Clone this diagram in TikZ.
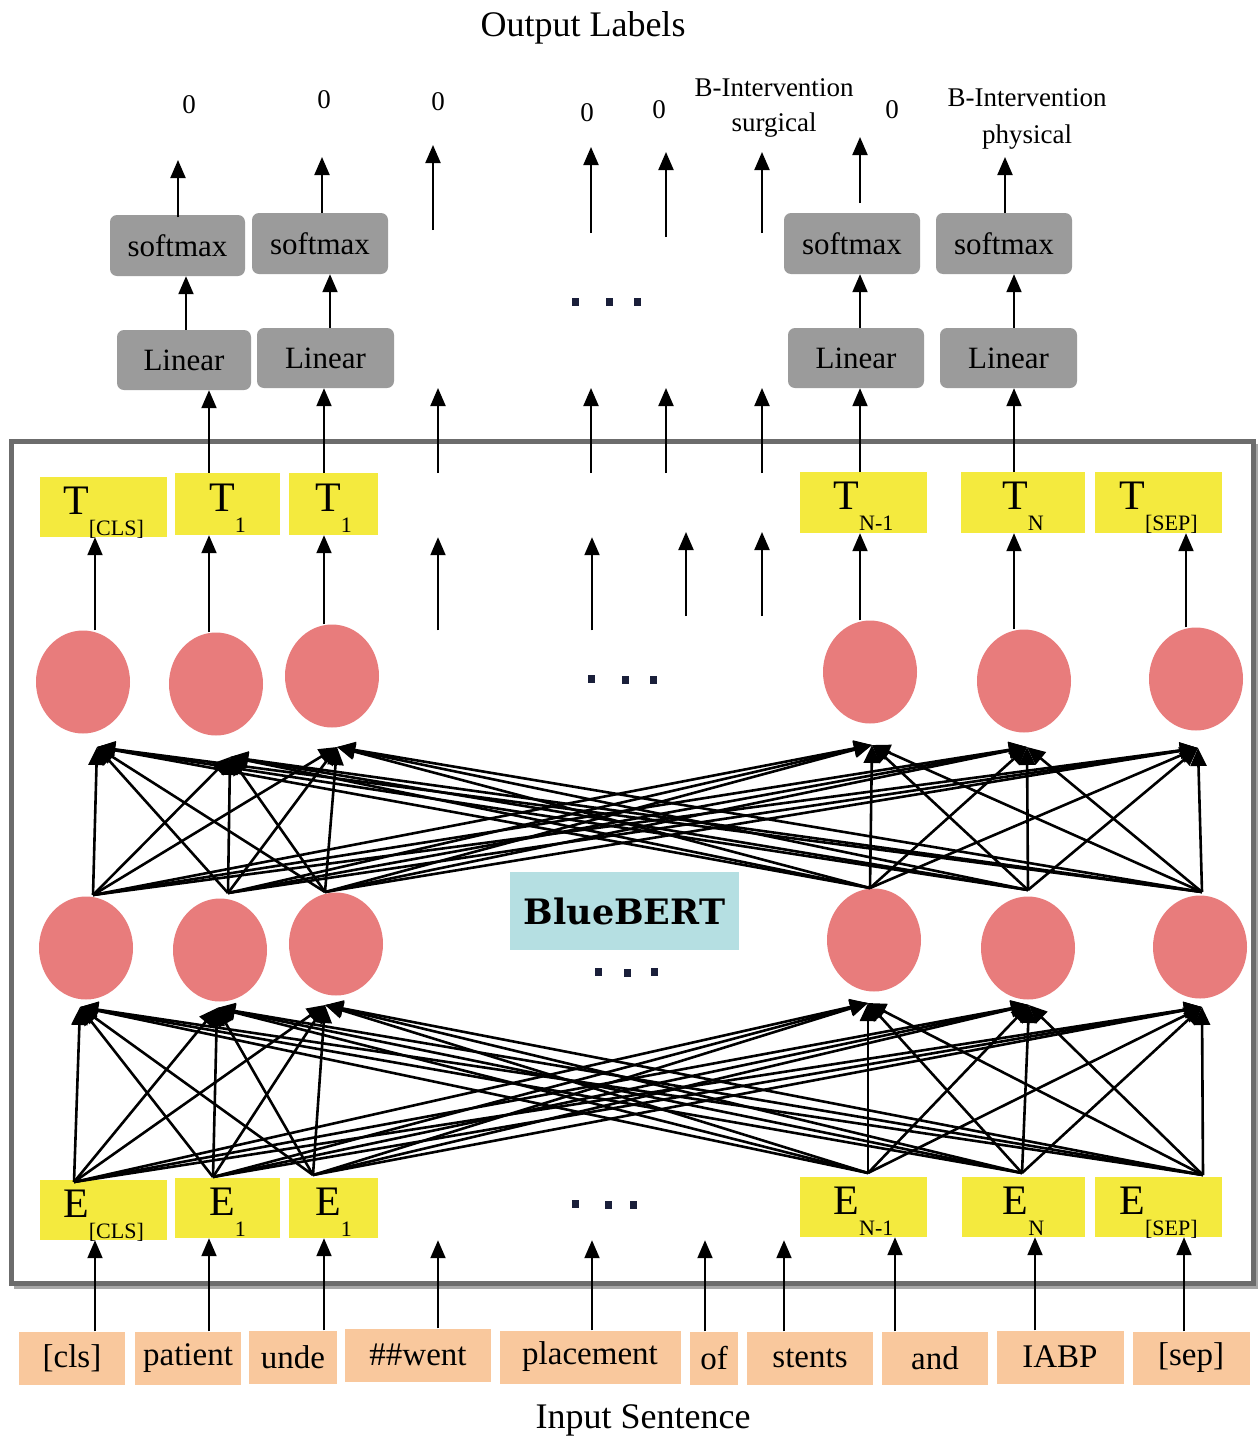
\documentclass[tikz,border=0pt]{standalone}
\usepackage{fontspec}
\setmainfont{Liberation Serif}
\newfontfamily\bertfont{DejaVu Serif}
\usetikzlibrary{arrows.meta,shapes.geometric}

\definecolor{tokfill}{HTML}{F9C89D}
\definecolor{embfill}{HTML}{F4EA3E}
\definecolor{unitfill}{HTML}{E87C7C}
\definecolor{headfill}{HTML}{9B9B9B}
\definecolor{bertfill}{HTML}{B5DFE2}
\definecolor{framecol}{HTML}{6C6C6C}
\definecolor{dotcol}{HTML}{1A1F3A}

\newcommand\embtext[2]{{\fontsize{42}{42}\selectfont #1}\raisebox{-21pt}{\fontsize{22}{22}\selectfont #2}}

\tikzset{
  fsz/.style={font=\fontsize{#1}{#1}\selectfont},
  arr/.style={line width=2pt,-{Triangle[length=18pt,width=15pt]}},
  link/.style={line width=2.6pt,-{Triangle[length=18pt,width=16pt]}},
  tok/.style={fill=tokfill,inner sep=0pt,minimum height=53pt,fsz=33},
  emb/.style={fill=embfill,inner sep=0pt,minimum height=60pt,text height=37pt,text depth=23pt},
  unit/.style={ellipse,fill=unitfill,inner sep=0pt,minimum width=94pt,minimum height=103pt},
  headbox/.style={fill=headfill,rounded corners=7pt,inner sep=0pt,minimum width=136pt,minimum height=60pt,fsz=31},
  lab/.style={fsz=27,inner sep=0pt,align=center},
  title/.style={fsz=36,inner sep=0pt},
  dotm/.style={fill=dotcol,inner sep=0pt,minimum width=7pt,minimum height=8pt},
}

\begin{document}
\begin{tikzpicture}[x=1pt,y=-1pt]
\useasboundingbox (0,0) rectangle (1260,1440);
\fill[white] (0,0) rectangle (1260,1440);

% encoder frame with a soft shadow on its lower edge
\draw[framecol!60,line width=4pt] (14,1287) -- (1256,1287) -- (1256,444);
\draw[framecol,line width=5pt] (11,441) rectangle (1253,1283);

% titles
\node[title] (outtitle) at (583,28) {Output Labels};
\node[title] (intitle) at (643,1420) {Input Sentence};

% input tokens
\node[tok,minimum width=106pt] (w1) at (72,1358) {[cls]};
\node[tok,minimum width=106pt] (w2) at (188,1358) {patient};
\node[tok,minimum width=88pt]  (w3) at (293,1357) {unde};
\node[tok,minimum width=146pt] (w4) at (418,1355) {\#\#went};
\node[tok,minimum width=181pt] (w5) at (590,1357) {placement};
\node[tok,minimum width=48pt]  (w6) at (714,1358) {of};
\node[tok,minimum width=126pt] (w7) at (810,1358) {stents};
\node[tok,minimum width=106pt] (w8) at (935,1358) {and};
\node[tok,minimum width=127pt] (w9) at (1060,1357) {IABP};
\node[tok,minimum width=117pt] (w10) at (1191,1358) {[sep]};

% embeddings
\node[emb,minimum width=127pt] (ecls) at (103.5,1210) {\embtext{E}{[CLS]}};
\node[emb,minimum width=105pt] (e1)   at (227.5,1208) {\embtext{E}{1}};
\node[emb,minimum width=89pt]  (e1b)  at (333.5,1208) {\embtext{E}{1}};
\node[emb,minimum width=127pt] (eN1)  at (863.5,1207) {\embtext{E}{N-1}};
\node[emb,minimum width=123pt] (eN)   at (1023.5,1207) {\embtext{E}{N}};
\node[emb,minimum width=127pt] (eSEP) at (1158.5,1207) {\embtext{E}{[SEP]}};

% contextual outputs
\node[emb,minimum width=127pt] (tcls) at (103.5,507) {\embtext{T}{[CLS]}};
\node[emb,minimum width=105pt,minimum height=62pt] (t1) at (227.5,504) {\embtext{T}{1}};
\node[emb,minimum width=89pt,minimum height=62pt]  (t1b) at (333.5,504) {\embtext{T}{1}};
\node[emb,minimum width=127pt,minimum height=61pt] (tN1) at (863.5,502.5) {\embtext{T}{N-1}};
\node[emb,minimum width=124pt,minimum height=61pt] (tN) at (1023,502.5) {\embtext{T}{N}};
\node[emb,minimum width=127pt,minimum height=61pt] (tSEP) at (1158.5,502.5) {\embtext{T}{[SEP]}};

% hidden units
\node[unit] (la) at (86,948) {};
\node[unit] (lb) at (220,950) {};
\node[unit] (lc) at (336,944) {};
\node[unit] (ld) at (874,940) {};
\node[unit] (le) at (1028,948) {};
\node[unit] (lf) at (1200,947) {};
\node[unit] (ua) at (83,682) {};
\node[unit] (ub) at (216,684) {};
\node[unit] (uc) at (332,676) {};
\node[unit] (ud) at (870,672) {};
\node[unit] (ue) at (1024,681) {};
\node[unit] (uf) at (1196,679) {};

% model name
\node[fill=bertfill,inner sep=0pt,minimum width=229pt,minimum height=78pt,
      font=\bertfont\bfseries\fontsize{35}{35}\selectfont] (bert) at (624.5,911) {BlueBERT};

% classification heads
\node[headbox,minimum width=134pt] (lin1) at (184,360) {Linear};
\node[headbox,minimum width=137pt] (lin2) at (325.5,358) {Linear};
\node[headbox] (lin3) at (856,358) {Linear};
\node[headbox,minimum width=137pt] (lin4) at (1008.5,358) {Linear};
\node[headbox,minimum width=135pt,minimum height=61pt] (sm1) at (177.5,245.5) {softmax};
\node[headbox,minimum height=61pt] (sm2) at (320,243.5) {softmax};
\node[headbox,minimum height=61pt] (sm3) at (852,243.5) {softmax};
\node[headbox,minimum height=61pt] (sm4) at (1004,243.5) {softmax};

% output labels
\node[lab] (o1) at (189,105) {0};
\node[lab] (o2) at (324,100) {0};
\node[lab] (o3) at (438,102) {0};
\node[lab] (o4) at (587,113) {0};
\node[lab] (o5) at (659,110) {0};
\node[lab] (o6) at (774,108) {B-Intervention\\[8pt]surgical};
\node[lab] (o7) at (892,110) {0};
\node[lab] (o8) at (1027,119) {B-Intervention\\[10pt]physical};

% ellipsis marks
\foreach \n/\x/\y in {a1/575/302,a2/609/302,a3/637/302,
                      b1/591/679,b2/625/680,b3/653/680,
                      c1/598/972,c2/627/973,c3/654/972,
                      d1/575/1204,d2/608/1205,d3/633/1205}
  \node[dotm] (dot\n) at (\x,\y) {};

% column positions of the vertical arrows
\foreach \n/\x in {k1/95,k2/209,k3/324,k4/438,k5/592,k6/705,k7/784,k8/895,k9/1035,k10/1184}
  \coordinate (\n) at (\x,0);

% tokens -> embeddings
\draw[arr] (w1.north -| k1) -- (ecls.south -| k1);
\draw[arr] (w2.north -| k2) -- (e1.south -| k2);
\draw[arr] (w3.north -| k3) -- (e1b.south -| k3);
\draw[arr] (w4.north -| k4) -- (ecls.south -| k4);
\draw[arr] (w5.north -| k5) -- (ecls.south -| k5);
\draw[arr] (w6.north -| k6) -- (ecls.south -| k6);
\draw[arr] (w7.north -| k7) -- (ecls.south -| k7);
\draw[arr] (w8.north -| k8) -- (eN1.south -| k8);
\draw[arr] (w9.north -| k9) -- (eN.south -| k9);
\draw[arr] (w10.north -| k10) -- (eSEP.south -| k10);

% attention layer 1: embeddings -> lower units
\coordinate (es1) at (74,1182);   \coordinate (et1) at (80,1007);
\coordinate (es2) at (213,1177);  \coordinate (et2) at (217,1008);
\coordinate (es3) at (313,1175);  \coordinate (et3) at (325,1005);
\coordinate (es4) at (868,1173);  \coordinate (et4) at (868,1003);
\coordinate (es5) at (1022,1173); \coordinate (et5) at (1029,1005);
\coordinate (es6) at (1203,1175); \coordinate (et6) at (1202,1007);
\foreach \s in {1,...,6}{\foreach \t in {1,...,6}{\draw[link] (es\s) -- (et\t);}}

% attention layer 2: lower units -> upper units
\coordinate (ms1) at (93,895);    \coordinate (mt1) at (97,747);
\coordinate (ms2) at (228,893);   \coordinate (mt2) at (230,757);
\coordinate (ms3) at (325,892);   \coordinate (mt3) at (337,747);
\coordinate (ms4) at (870,888);   \coordinate (mt4) at (872,745);
\coordinate (ms5) at (1028,890);  \coordinate (mt5) at (1027,747);
\coordinate (ms6) at (1202,892);  \coordinate (mt6) at (1198,748);
\foreach \s in {1,...,6}{\foreach \t in {1,...,6}{\draw[link] (ms\s) -- (mt\t);}}

% upper units -> outputs
\draw[arr] (ua.north -| k1) -- (tcls.south -| k1);
\draw[arr] (ub.north -| k2) -- (t1.south -| k2);
\draw[arr] (uc.north -| k3) -- (t1b.south -| k3);
\draw[arr] (ua.north -| k4) -- (tcls.south -| k4);
\draw[arr] (ua.north -| k5) -- (tcls.south -| k5);
\coordinate (fa) at (686,616); \coordinate (fb) at (686,532);
\coordinate (fc) at (762,616); \coordinate (fd) at (762,532);
\draw[arr] (fa) -- (fb);
\draw[arr] (fc) -- (fd);
\coordinate (k8u) at (860,0); \coordinate (k9u) at (1014,0); \coordinate (k10u) at (1186,0);
\draw[arr] (ud.north -| k8u) -- (tN1.south -| k8u);
\draw[arr] (ue.north -| k9u) -- (tN.south -| k9u);
\draw[arr] (uf.north -| k10u) -- (tSEP.south -| k10u);

% outputs -> heads
\draw[arr] (t1.north -| k2) -- (lin1.south -| k2);
\draw[arr] (t1b.north -| k3) -- (lin2.south -| k3);
\draw[arr] (tN1.north -| k8u) -- (lin3.south -| k8u);
\draw[arr] (tN.north -| k9u) -- (lin4.south -| k9u);
\foreach \n/\x in {4/438,5/591,6/666,7/762}{
  \coordinate (g\n a) at (\x,473);
  \coordinate (g\n b) at (\x,388);
  \draw[arr] (g\n a) -- (g\n b);
}

% linear -> softmax
\coordinate (h1) at (186,0); \coordinate (h2) at (330,0);
\draw[arr] (lin1.north -| h1) -- (sm1.south -| h1);
\draw[arr] (lin2.north -| h2) -- (sm2.south -| h2);
\draw[arr] (lin3.north -| k8u) -- (sm3.south -| k8u);
\draw[arr] (lin4.north -| k9u) -- (sm4.south -| k9u);

% softmax -> labels
\coordinate (s1a) at (178,217);  \coordinate (s1b) at (178,160);
\coordinate (s2a) at (322,213);  \coordinate (s2b) at (322,157);
\coordinate (s3a) at (860,203);  \coordinate (s3b) at (860,137);
\coordinate (s4a) at (1005,213); \coordinate (s4b) at (1005,157);
\draw[arr] (s1a) -- (s1b);
\draw[arr] (s2a) -- (s2b);
\draw[arr] (s3a) -- (s3b);
\draw[arr] (s4a) -- (s4b);
\foreach \n/\x/\ya/\yb in {1/433/230/145,2/591/233/147,3/666/237/152,4/762/233/152}{
  \coordinate (p\n a) at (\x,\ya);
  \coordinate (p\n b) at (\x,\yb);
  \draw[arr] (p\n a) -- (p\n b);
}
\end{tikzpicture}
\end{document}
